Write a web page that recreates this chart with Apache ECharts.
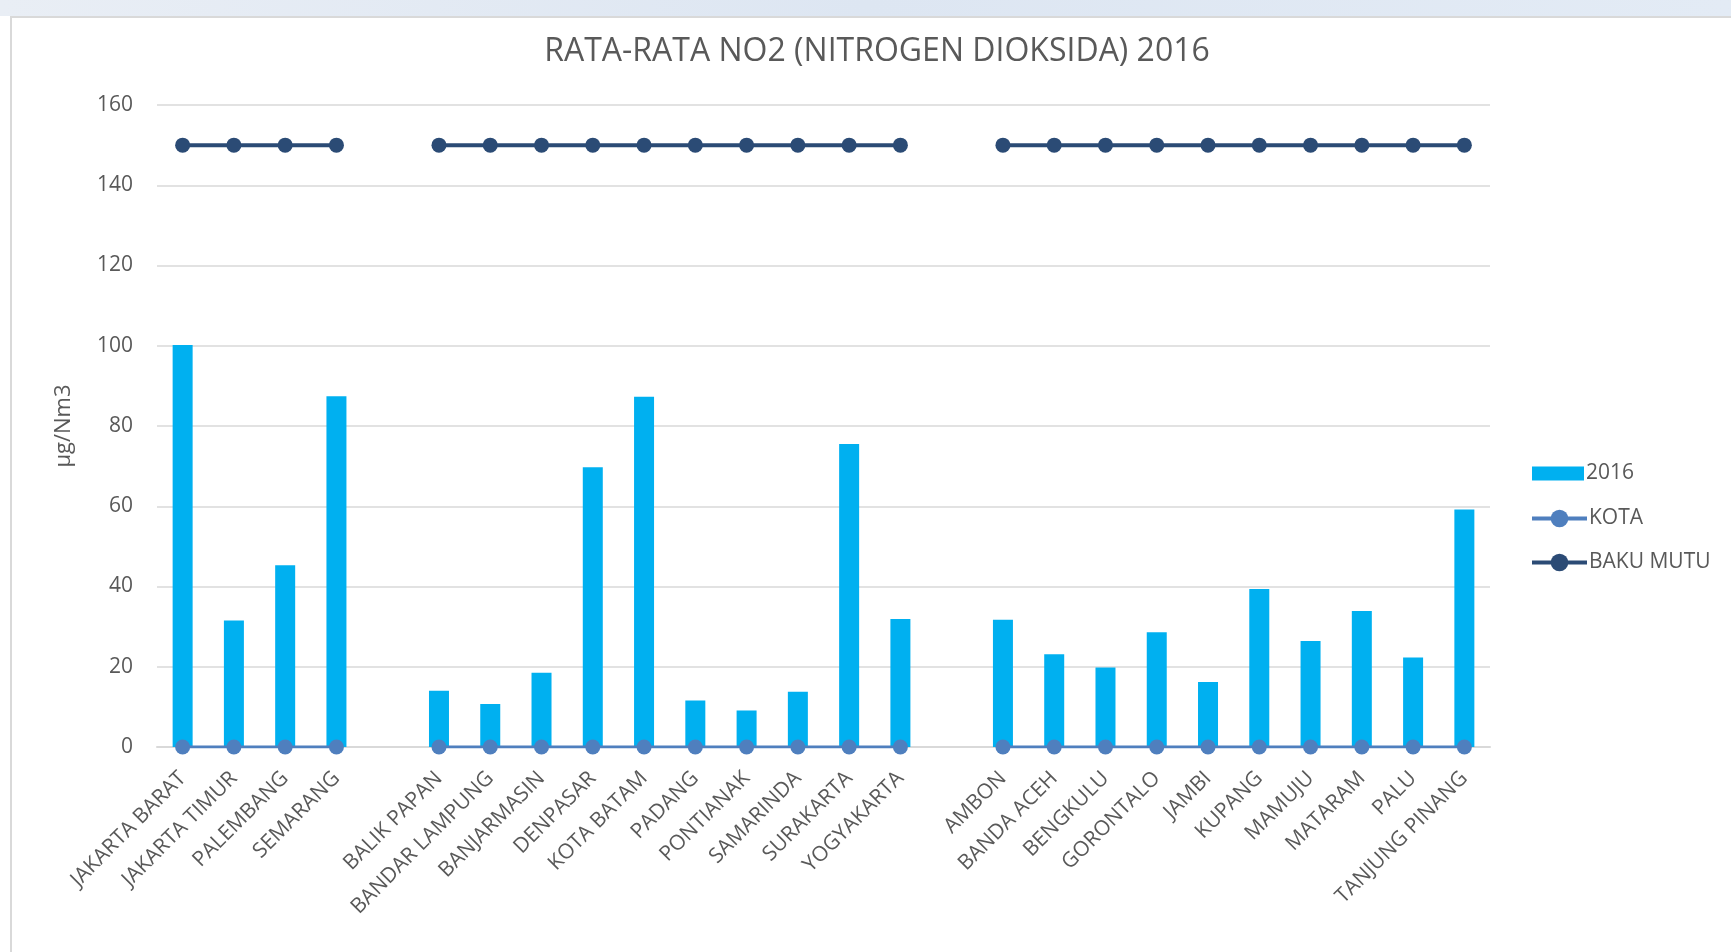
<!DOCTYPE html>
<html>
<head>
<meta charset="utf-8">
<script src="https://cdn.jsdelivr.net/npm/echarts@6/dist/echarts.min.js"></script>
<style>
html,body{margin:0;padding:0;background:#fff;}
#chart{width:1731px;height:952px;}
</style>
</head>
<body>
<div id="chart"></div>
<script>
const categories = ['JAKARTA BARAT','JAKARTA TIMUR','PALEMBANG','SEMARANG','',
  'BALIK PAPAN','BANDAR LAMPUNG','BANJARMASIN','DENPASAR','KOTA BATAM','PADANG','PONTIANAK','SAMARINDA','SURAKARTA','YOGYAKARTA','',
  'AMBON','BANDA ACEH','BENGKULU','GORONTALO','JAMBI','KUPANG','MAMUJU','MATARAM','PALU','TANJUNG PINANG'];
const values2016 = [100.2,31.5,45.3,87.4,null,
  14.0,10.7,18.5,69.7,87.3,11.6,9.1,13.8,75.5,31.9,null,
  31.7,23.1,19.8,28.6,16.2,39.4,26.4,33.9,22.3,59.2];
const kota = [0,0,0,0,null,0,0,0,0,0,0,0,0,0,0,null,0,0,0,0,0,0,0,0,0,0];
const bakuMutu = [150,150,150,150,null,150,150,150,150,150,150,150,150,150,150,null,150,150,150,150,150,150,150,150,150,150];
const yTicks = {min:0, max:160, interval:20};

const chart = echarts.init(document.getElementById('chart'), null, {renderer:'canvas'});
const font = '"Open Sans", "DejaVu Sans", sans-serif';
const legendText = {fontFamily:font, fontSize:21, color:'#595959', padding:[0,0,0,-3]};
chart.setOption({
  animation:false,
  textStyle:{fontFamily:font},
  graphic:[
    {type:'rect', left:0, top:0, shape:{width:1731, height:16}, style:{fill:new echarts.graphic.LinearGradient(0,0,1,0,[{offset:0,color:'#e9eef5'},{offset:0.5,color:'#dde6f2'},{offset:1,color:'#e3ebf5'}])}, silent:true},
    {type:'line', shape:{x1:11,y1:16,x2:11,y2:952}, style:{stroke:'#d9d9d9', lineWidth:2}, silent:true},
    {type:'line', shape:{x1:11,y1:17,x2:1731,y2:17}, style:{stroke:'#d9d9d9', lineWidth:2}, silent:true}
  ],
  title:{
    text:'RATA-RATA NO2 (NITROGEN DIOKSIDA) 2016',
    left:872, top:31, textAlign:'center',
    textStyle:{fontFamily:font, fontSize:32, fontWeight:'normal', color:'#595959'}
  },
  legend:[
    {
      orient:'vertical', left:1527, top:458, itemWidth:52, itemHeight:14,
      textStyle:legendText,
      data:[{name:'2016', icon:'rect', itemStyle:{color:'#00B0F0'}}]
    },
    {
      orient:'vertical', left:1525, top:503, itemGap:23, itemWidth:55, itemHeight:22,
      textStyle:legendText,
      data:[
        {name:'KOTA', lineStyle:{width:4}},
        {name:'BAKU MUTU', lineStyle:{width:4}}
      ]
    }
  ],
  grid:{left:157, right:241, top:105, bottom:205, containLabel:false},
  xAxis:{
    type:'category', data:categories,
    axisTick:{show:false},
    axisLine:{lineStyle:{color:'#d9d9d9', width:2}},
    axisLabel:{rotate:45, interval:0, fontSize:21, color:'#595959', fontFamily:font, margin:28}
  },
  yAxis:{
    type:'value', min:yTicks.min, max:yTicks.max, interval:yTicks.interval,
    name:'µg/Nm3', nameLocation:'middle', nameGap:82, nameRotate:90,
    nameTextStyle:{fontSize:22, color:'#595959', fontFamily:font},
    axisLine:{show:false}, axisTick:{show:false},
    axisLabel:{fontSize:21, color:'#595959', fontFamily:font, margin:24},
    splitLine:{lineStyle:{color:'#d9d9d9', width:1.5}}
  },
  series:[
    {name:'2016', type:'bar', data:values2016, barWidth:20, itemStyle:{color:'#00B0F0'}},
    {name:'KOTA', type:'line', data:kota, symbol:'circle', symbolSize:15, connectNulls:false,
      lineStyle:{color:'#4F7FBE', width:3}, itemStyle:{color:'#4F7FBE'}},
    {name:'BAKU MUTU', type:'line', data:bakuMutu, symbol:'circle', symbolSize:15, connectNulls:false,
      lineStyle:{color:'#2B4B75', width:4}, itemStyle:{color:'#2B4B75'}}
  ]
});
</script>
</body>
</html>
